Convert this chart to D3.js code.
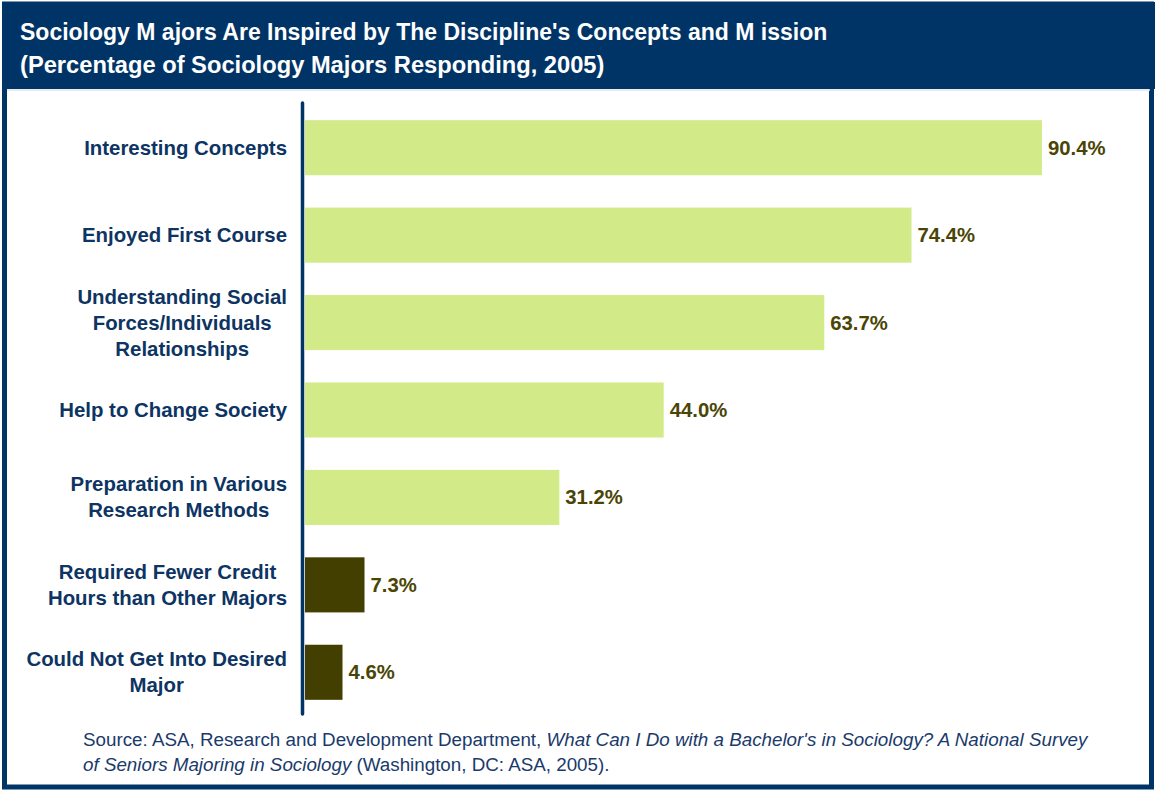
<!DOCTYPE html>
<html><head><meta charset="utf-8">
<script src="https://cdn.jsdelivr.net/npm/d3@7"></script>
<style>body{margin:0;background:#fff;}svg{display:block;font-family:"Liberation Sans",Arial,sans-serif;}</style>
</head><body>
<svg id="c" width="1155" height="791"></svg>
<script>
const categories = [
  ["Interesting Concepts"],
  ["Enjoyed First Course"],
  ["Understanding Social", "Forces/Individuals", "Relationships"],
  ["Help to Change Society"],
  ["Preparation in Various", "Research Methods"],
  ["Required Fewer Credit", "Hours than Other Majors"],
  ["Could Not Get Into Desired", "Major"]
];
const values = [90.4, 74.4, 63.7, 44.0, 31.2, 7.3, 4.6];
const groups = ["concept", "concept", "concept", "concept", "concept", "other", "other"];
const titleLines = ["Sociology M ajors Are Inspired by The Discipline's Concepts and M ission",
                    "(Percentage of Sociology Majors Responding, 2005)"];

const svg = d3.select("#c");
const navy = "#013466";
// frame
svg.append("rect").attr("x", 4.5).attr("y", 4).attr("width", 1147).attr("height", 783)
  .attr("fill", "#fff").attr("stroke", navy).attr("stroke-width", 5);
svg.append("rect").attr("x", 2).attr("y", 2).attr("width", 1153).attr("height", 87).attr("fill", navy);
svg.append("line").attr("x1", 7).attr("x2", 1150).attr("y1", 90).attr("y2", 90).attr("stroke", "#dfe6ef").attr("stroke-width", 1.5);

svg.selectAll("text.title").data(titleLines).join("text")
  .attr("x", 20).attr("y", (d, i) => 40 + i * 32.5)
  .attr("fill", "#fff").attr("font-weight", "bold").attr("font-size", (d, i) => i === 0 ? 23 : 23.7)
  .attr("style", "white-space:pre").text(d => d);

const idx = d3.range(values.length);
const x = d3.scaleLinear().domain([0, 100]).range([305, 305 + 815.2]);
const y = d3.scaleBand().domain(idx).range([104, 716]).paddingInner(0.37).paddingOuter(0.185);
const color = d3.scaleOrdinal().domain(["concept", "other"]).range(["#d2eb88", "#433f00"]);

svg.selectAll("rect.bar").data(idx).join("rect")
  .attr("x", x(0)).attr("y", i => y(i))
  .attr("width", i => x(values[i]) - x(0)).attr("height", y.bandwidth())
  .attr("fill", i => color(groups[i]));

svg.append("line").attr("x1", 302.5).attr("x2", 302.5).attr("y1", 103).attr("y2", 714)
  .attr("stroke", navy).attr("stroke-width", 3.5).attr("stroke-linecap", "round");

svg.selectAll("text.val").data(idx).join("text")
  .attr("x", i => x(values[i]) + 6).attr("y", i => y(i) + y.bandwidth() / 2 + 7)
  .attr("fill", "#4a4505").attr("font-weight", "bold").attr("font-size", 20.3)
  .text(i => values[i].toFixed(1) + "%");

const labG = svg.append("g").attr("fill", "#0d3462").attr("font-weight", "bold").attr("font-size", 20.4);
idx.forEach(i => {
  const lines = categories[i];
  const n = lines.length;
  const cy = y(i) + y.bandwidth() / 2;
  const t = labG.append("text").attr("text-anchor", "middle");
  t.selectAll("tspan").data(lines).join("tspan")
    .attr("y", (d, k) => cy + 7 + (k - (n - 1) / 2) * 26).text(d => d);
  let maxW = 0;
  t.selectAll("tspan").each(function() { maxW = Math.max(maxW, this.getComputedTextLength()); });
  t.selectAll("tspan").attr("x", 287 - maxW / 2);
});

const src = svg.append("text").attr("x", 83).attr("y", 746).attr("fill", "#1a3a6b").attr("font-size", 18.8);
src.append("tspan").text("Source: ASA, Research and Development Department, ");
src.append("tspan").attr("font-style", "italic").text("What Can I Do with a Bachelor's in Sociology? A National Survey");
const src2 = svg.append("text").attr("x", 83).attr("y", 771).attr("fill", "#1a3a6b").attr("font-size", 18.8);
src2.append("tspan").attr("font-style", "italic").text("of Seniors Majoring in Sociology");
src2.append("tspan").text(" (Washington, DC: ASA, 2005).");
</script>
</body></html>
